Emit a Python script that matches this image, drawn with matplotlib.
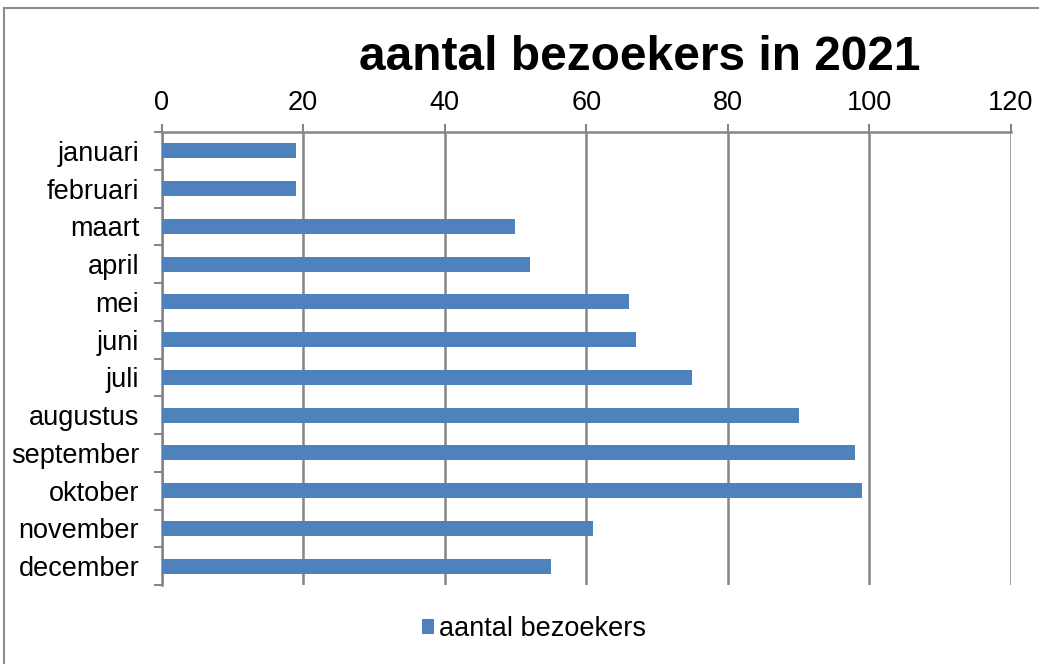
import matplotlib
matplotlib.use("Agg")
import matplotlib.pyplot as plt
import numpy as np
from matplotlib.patches import Rectangle

months = ["januari", "februari", "maart", "april", "mei", "juni", "juli",
          "augustus", "september", "oktober", "november", "december"]
visitors = [19, 19, 50, 52, 66, 67, 75, 90, 98, 99, 61, 55]
xticks = [0, 20, 40, 60, 80, 100, 120]
title = "aantal bezoekers in 2021"
series_name = "aantal bezoekers"

plt.rcParams['font.family'] = ['Liberation Sans', 'DejaVu Sans']

W, H = 1039, 664
fig = plt.figure(figsize=(W / 100, H / 100), dpi=100)
fig.patch.set_facecolor('white')

# outer chart frame
fig.add_artist(Rectangle((4 / W, -0.01), 1.02, 1 - 8 / H + 0.01, transform=fig.transFigure,
                         fill=False, edgecolor='#8c8c8c', lw=1.5))

left, right = 161.5 / W, 1011 / W
top, bottom = 1 - 132 / H, 1 - 585 / H
ax = fig.add_axes([left, bottom, right - left, top - bottom])

y = np.arange(len(months))
bars = ax.barh(y, visitors, height=0.4, color='#4F81BD', label=series_name, zorder=3)

ax.set_xlim(0, 120)
ax.set_ylim(len(months) - 0.5, -0.5)
ax.set_xticks(xticks)
ax.set_xticklabels([str(t) for t in xticks])
ax.xaxis.tick_top()
ax.tick_params(axis='x', which='major', direction='out', length=5.5, width=1.5,
               color='#868686', labelsize=19.5, pad=6)
ax.xaxis.grid(True, color='#868686', lw=1.8, zorder=0)

ax.set_yticks(y)
ax.set_yticklabels(months)
ax.set_yticks(np.arange(-0.5, len(months) + 0.5, 1), minor=True)
ax.tick_params(axis='y', which='major', length=0, labelsize=19.5, pad=16)
ax.tick_params(axis='y', which='minor', direction='out', length=6, width=1.5, color='#868686')

for s in ['right', 'bottom']:
    ax.spines[s].set_visible(False)
for s in ['top', 'left']:
    ax.spines[s].set_color('#868686')
    ax.spines[s].set_linewidth(1.8)
ax.spines['left'].set_bounds(len(months) - 0.5, -0.5)

fig.text(640 / W, 1 - 58 / H, title, ha='center', va='center',
         fontsize=34.5, fontweight='bold')

fig.legend(handles=[bars], labels=[series_name], loc='center',
           bbox_to_anchor=(534 / W, 1 - 629 / H), frameon=False, fontsize=19.5,
           handlelength=0.45, handleheight=0.45, handletextpad=0.2)

fig.savefig("out.png", dpi=100)
